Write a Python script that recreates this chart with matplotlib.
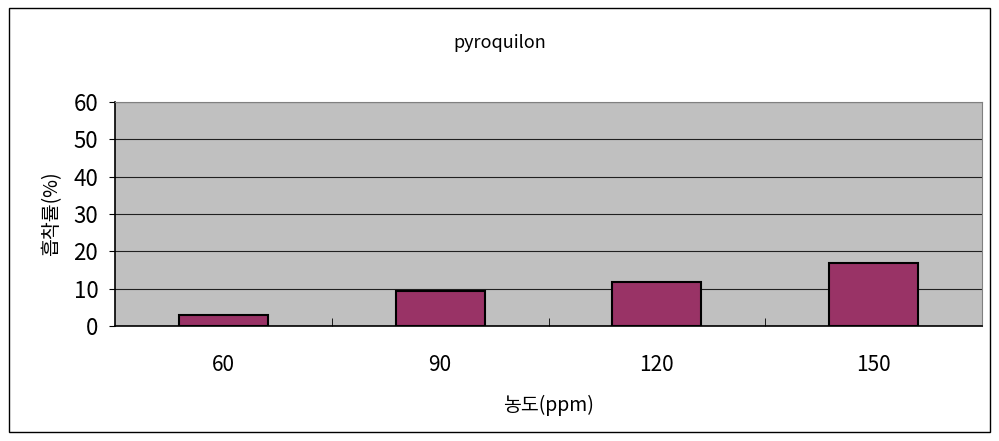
import matplotlib.pyplot as plt
from matplotlib.patches import Rectangle

plt.rcParams['font.family'] = ['Noto Sans CJK KR', 'DejaVu Sans']

categories = ['60', '90', '120', '150']
values = [2.9, 9.3, 11.9, 16.8]
yticks = [0, 10, 20, 30, 40, 50, 60]

fig = plt.figure(figsize=(9.99, 4.41), dpi=100)
ax = fig.add_axes([0.1151, 0.2608, 0.8679, 0.5079])
ax.set_facecolor('#c0c0c0')

# 바깥 테두리
fig.patches.append(Rectangle((0.009, 0.02), 0.982, 0.962, transform=fig.transFigure,
                             fill=False, edgecolor='black', linewidth=1))

x = range(len(categories))
ax.bar(x, values, width=0.41, color='#993366', edgecolor='black', linewidth=1.5, zorder=3)

ax.set_xlim(-0.5, 3.5)
ax.set_ylim(0, 60)
ax.set_yticks(yticks)
ax.set_xticks(list(x))
ax.set_xticklabels(categories, fontsize=15)
ax.set_xticks([0.5, 1.5, 2.5], minor=True)
ax.tick_params(axis='x', which='major', length=0, pad=20)
ax.tick_params(axis='x', which='minor', length=6, direction='in', color='black')
ax.tick_params(axis='y', length=4, direction='out', labelsize=16, pad=8)
ax.yaxis.grid(True, color='#202020', linewidth=0.8, zorder=0)
ax.set_axisbelow(True)

for s in ['top', 'right']:
    ax.spines[s].set_color('#808080')
for s in ['left', 'bottom']:
    ax.spines[s].set_color('black')
    ax.spines[s].set_linewidth(1.2)

ax.set_ylabel('흡착률(%)', fontsize=14, labelpad=8)
ax.set_xlabel('농도(ppm)', fontsize=14, labelpad=14)
fig.text(0.5, 0.903, 'pyroquilon', ha='center', va='center', fontsize=13)

fig.savefig('out.png', dpi=100)
